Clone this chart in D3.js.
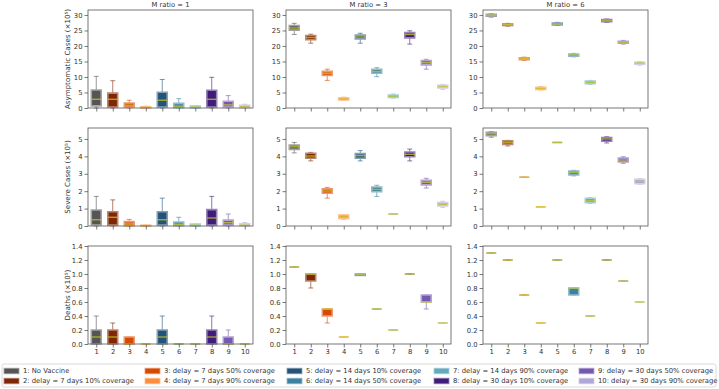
<!DOCTYPE html>
<html>
<head>
<meta charset="utf-8">
<script src="https://cdn.jsdelivr.net/npm/d3@7"></script>
<style>
  body { margin: 0; background: #fff; }
  text { font-family: "DejaVu Sans", sans-serif; fill: #333; }
</style>
</head>
<body>
<div id="chart"></div>
<script>
// scenario labels + colours
const scenarios = [
  "1: No Vaccine",
  "2: delay = 7 days 10% coverage",
  "3: delay = 7 days 50% coverage",
  "4: delay = 7 days 90% coverage",
  "5: delay = 14 days 10% coverage",
  "6: delay = 14 days 50% coverage",
  "7: delay = 14 days 90% coverage",
  "8: delay = 30 days 10% coverage",
  "9: delay = 30 days 50% coverage",
  "10: delay = 30 days 90% coverage"
];
const colors = ["#555555", "#7f2704", "#d94801", "#fd8d3c", "#245378",
                "#3b82a0", "#62aabc", "#3f1c7a", "#7459b0", "#b0a6d8"];

const mRatios = [1, 3, 6];
const xTicks = [1, 2, 3, 4, 5, 6, 7, 8, 9, 10];

// each box: [min, q1, median, q3, max]
const asymM1 = [[0, 0.7, 2.8, 5.8, 10.2], [0, 0.3, 2.8, 4.8, 8.8], [0, 0.3, 0.9, 1.6, 2.5],
  [0, 0, 0.2, 0.4, 0.6], [0, 0.3, 2.5, 5.1, 9.2], [0, 0.1, 0.6, 1.5, 3.0], [0, 0, 0.3, 0.6, 0.7],
  [0, 0.3, 2.8, 5.7, 9.9], [0, 0.3, 1.0, 2.2, 4.0], [0, 0.1, 0.5, 0.9, 1.2]];
const asymM3 = [[23.7, 25.1, 25.8, 26.6, 27.3], [20.9, 22.0, 22.7, 23.4, 23.8], [8.9, 10.5, 11.2, 11.8, 12.5],
  [2.5, 2.6, 2.9, 3.3, 3.5], [20.9, 22.3, 22.9, 23.5, 24.1], [10.1, 11.2, 11.8, 12.5, 13.0],
  [3.2, 3.4, 3.8, 4.2, 4.5], [20.6, 22.6, 23.7, 24.3, 24.9], [12.5, 13.9, 14.6, 15.3, 15.7],
  [6.0, 6.5, 6.9, 7.3, 7.6]];
const asymM6 = [[29.3, 29.6, 29.9, 30.2, 30.4], [26.4, 26.6, 26.9, 27.1, 27.3], [15.3, 15.6, 15.9, 16.2, 16.4],
  [5.8, 6.0, 6.3, 6.7, 6.9], [26.6, 26.8, 27.1, 27.4, 27.6], [16.5, 16.7, 17.1, 17.4, 17.6],
  [7.6, 7.8, 8.3, 8.7, 8.9], [27.6, 27.8, 28.2, 28.5, 28.7], [20.6, 20.9, 21.2, 21.5, 21.8],
  [13.8, 14.1, 14.5, 14.7, 15.0]];

const sevM1 = [[0, 0.06, 0.36, 0.92, 1.7], [0, 0.05, 0.5, 0.82, 1.5], [0, 0.02, 0.12, 0.25, 0.38],
  [0, 0, 0.02, 0.05, 0.05], [0, 0.05, 0.36, 0.82, 1.6], [0, 0.02, 0.1, 0.23, 0.5], [0, 0, 0.05, 0.11, 0.11],
  [0, 0.05, 0.46, 0.94, 1.7], [0, 0.05, 0.19, 0.34, 0.69], [0, 0.02, 0.05, 0.12, 0.2]];
const sevM3 = [[4.2, 4.4, 4.55, 4.65, 4.8], [3.74, 3.89, 4.02, 4.18, 4.23], [1.6, 1.88, 2.01, 2.13, 2.22],
  [0.38, 0.44, 0.56, 0.63, 0.65], [3.74, 3.89, 4.04, 4.16, 4.33], [1.7, 1.97, 2.1, 2.24, 2.34],
  [0.69, 0.69, 0.69, 0.69, 0.69], [3.74, 3.98, 4.12, 4.25, 4.42], [2.18, 2.36, 2.51, 2.62, 2.74],
  [1.07, 1.15, 1.25, 1.34, 1.42]];
const sevM6 = [[5.1, 5.19, 5.3, 5.38, 5.42], [4.6, 4.69, 4.79, 4.89, 4.92], [2.8, 2.8, 2.8, 2.8, 2.8],
  [1.1, 1.1, 1.1, 1.1, 1.1], [4.8, 4.8, 4.8, 4.8, 4.8], [2.88, 2.93, 3.07, 3.16, 3.2],
  [1.3, 1.34, 1.46, 1.59, 1.63], [4.77, 4.87, 5.0, 5.08, 5.13], [3.6, 3.68, 3.79, 3.91, 3.98],
  [2.4, 2.43, 2.57, 2.68, 2.72]];

const deathM1 = [[0, 0, 0.1, 0.2, 0.4], [0, 0, 0.1, 0.2, 0.3], [0, 0, 0, 0.1, 0.1], [0, 0, 0, 0, 0],
  [0, 0, 0.1, 0.2, 0.4], [0, 0, 0, 0, 0], [0, 0, 0, 0, 0], [0, 0, 0.1, 0.2, 0.4],
  [0, 0, 0, 0.1, 0.2], [0, 0, 0, 0, 0]];
const deathM3 = [[1.1, 1.1, 1.1, 1.1, 1.1], [0.8, 0.9, 1.0, 1.0, 1.0], [0.3, 0.4, 0.5, 0.5, 0.5],
  [0.1, 0.1, 0.1, 0.1, 0.1], [0.98, 0.98, 1.0, 1.0, 1.0], [0.5, 0.5, 0.5, 0.5, 0.5],
  [0.2, 0.2, 0.2, 0.2, 0.2], [1.0, 1.0, 1.0, 1.0, 1.0], [0.5, 0.6, 0.6, 0.7, 0.7],
  [0.3, 0.3, 0.3, 0.3, 0.3]];
const deathM6 = [[1.3, 1.3, 1.3, 1.3, 1.3], [1.2, 1.2, 1.2, 1.2, 1.2], [0.7, 0.7, 0.7, 0.7, 0.7],
  [0.3, 0.3, 0.3, 0.3, 0.3], [1.2, 1.2, 1.2, 1.2, 1.2], [0.7, 0.7, 0.8, 0.8, 0.8],
  [0.4, 0.4, 0.4, 0.4, 0.4], [1.2, 1.2, 1.2, 1.2, 1.2], [0.9, 0.9, 0.9, 0.9, 0.9],
  [0.6, 0.6, 0.6, 0.6, 0.6]];

const rows = [
  { label: "Asymptomatic Cases (×10⁵)", max: 31.6, ticks: [0, 5, 10, 15, 20, 25, 30], fmt: d3.format("d"),
    data: [asymM1, asymM3, asymM6] },
  { label: "Severe Cases (×10⁵)", max: 5.63, ticks: [0, 1, 2, 3, 4, 5], fmt: d3.format("d"),
    data: [sevM1, sevM3, sevM6] },
  { label: "Deaths (×10⁵)", max: 1.4, ticks: [0, 0.2, 0.4, 0.6, 0.8, 1.0, 1.2, 1.4], fmt: d3.format(".1f"),
    data: [deathM1, deathM3, deathM6] }
];

// layout
const W = 719, H = 389;
const colX = [88, 286, 483], panelW = 165;
const rowY = [10, 128, 246], panelH = 98;
const fs = 6.8;

const svg = d3.select("#chart").append("svg")
  .attr("width", W).attr("height", H);

const x = d3.scaleLinear().domain([0.5, 10.5]).range([0, panelW]);
const boxW = x(1.6) - x(1);

rows.forEach((row, ri) => {
  const y = d3.scaleLinear().domain([0, row.max]).range([panelH, 0]);

  svg.append("text")
    .attr("transform", `translate(68.5, ${rowY[ri] + panelH / 2}) rotate(-90)`)
    .attr("text-anchor", "middle")
    .attr("dominant-baseline", "middle")
    .attr("font-size", fs + 0.3)
    .text(row.label);

  mRatios.forEach((m, ci) => {
    const g = svg.append("g").attr("transform", `translate(${colX[ci]}, ${rowY[ri]})`);

    if (ri === 0) {
      g.append("text")
        .attr("x", panelW / 2).attr("y", -5)
        .attr("text-anchor", "middle")
        .attr("dominant-baseline", "middle")
        .attr("font-size", fs)
        .text("M ratio = " + m);
    }

    // boxes
    const boxes = g.selectAll("g.box").data(row.data[ci]).enter()
      .append("g").attr("class", "box");

    boxes.each(function (d, i) {
      const b = d3.select(this);
      const cx = x(i + 1), col = colors[i];
      const light = d3.interpolateRgb(col, "#ffffff")(0.45);
      // whiskers
      [[d[0], d[1]], [d[3], d[4]]].forEach(([a, c]) => {
        b.append("line")
          .attr("x1", cx).attr("x2", cx)
          .attr("y1", y(a)).attr("y2", y(c))
          .attr("stroke", col).attr("stroke-opacity", 0.6).attr("stroke-width", 1);
      });
      [d[0], d[4]].forEach(v => {
        b.append("line")
          .attr("x1", cx - boxW / 4).attr("x2", cx + boxW / 4)
          .attr("y1", y(v)).attr("y2", y(v))
          .attr("stroke", col).attr("stroke-opacity", 0.6).attr("stroke-width", 1);
      });
      // box as path so flat boxes still show
      const x0 = cx - boxW / 2, x1 = cx + boxW / 2;
      b.append("path")
        .attr("d", `M${x0},${y(d[1])}H${x1}V${y(d[3])}H${x0}Z`)
        .attr("fill", col)
        .attr("stroke", light).attr("stroke-width", 1.6);
      // median
      b.append("line")
        .attr("x1", x0).attr("x2", x1)
        .attr("y1", y(d[2])).attr("y2", y(d[2]))
        .attr("stroke", "#c8c820").attr("stroke-opacity", 0.75).attr("stroke-width", 1.4);
    });

    // axes
    const yAxis = d3.axisLeft(y).tickValues(row.ticks).tickFormat(row.fmt)
      .tickSize(3.5).tickPadding(2);
    const ya = g.append("g").call(yAxis);
    const xAxis = d3.axisBottom(x).tickValues(xTicks)
      .tickFormat(ri === 2 ? d3.format("d") : "").tickSize(3.5).tickPadding(2);
    const xa = g.append("g").attr("transform", `translate(0, ${panelH})`).call(xAxis);
    [ya, xa].forEach(a => {
      a.select(".domain").remove();
      a.selectAll("line").attr("stroke", "#555").attr("stroke-width", 0.8);
      a.selectAll("text").attr("font-size", fs).attr("font-family", "DejaVu Sans").attr("fill", "#333");
    });

    g.append("rect")
      .attr("width", panelW).attr("height", panelH)
      .attr("fill", "none").attr("stroke", "#555").attr("stroke-width", 0.8);
  });
});

// legend
const legX = [4, 145, 287, 434, 579];
const legRowY = [371, 381];
svg.append("rect")
  .attr("x", 2).attr("y", 364).attr("width", 714).attr("height", 23)
  .attr("rx", 2).attr("fill", "#fff").attr("stroke", "#d0d0d0").attr("stroke-width", 0.8);

scenarios.forEach((s, i) => {
  const lx = legX[Math.floor(i / 2)], ly = legRowY[i % 2];
  svg.append("rect")
    .attr("x", lx).attr("y", ly - 2.8).attr("width", 15).attr("height", 5.6)
    .attr("fill", colors[i])
    .attr("stroke", d3.interpolateRgb(colors[i], "#ffffff")(0.45)).attr("stroke-width", 0.8);
  svg.append("text")
    .attr("x", lx + 19).attr("y", ly)
    .attr("dominant-baseline", "middle")
    .attr("font-size", fs)
    .text(s);
});
</script>
</body>
</html>
